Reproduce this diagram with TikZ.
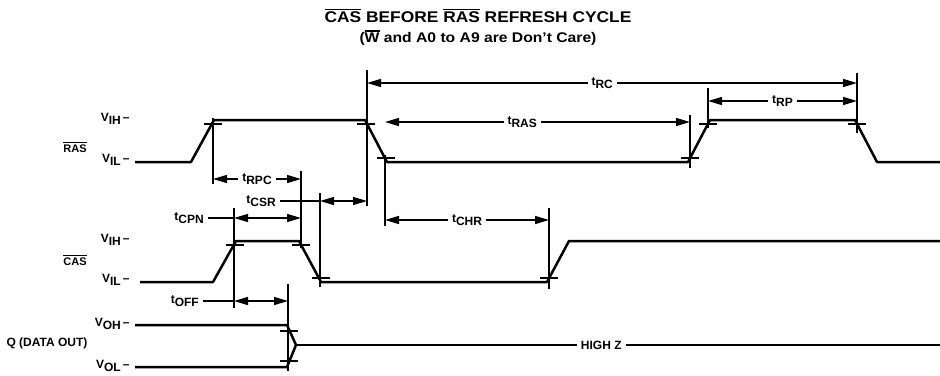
\documentclass[tikz,border=0pt]{standalone}
\usepackage{fontspec}
\setmainfont{Liberation Sans}
\newfontfamily\widefont[FakeStretch=1.12]{Liberation Sans}
\usetikzlibrary{arrows.meta}

\begin{document}
\begin{tikzpicture}[x=1pt,y=-1pt,
  font=\bfseries\fontsize{12}{13}\selectfont,
  wave/.style={line width=2.5pt,line join=round},
  ext/.style={line width=1.4pt},
  tick/.style={line width=1.8pt},
  dim/.style={line width=1.4pt,{Triangle[length=14pt,width=8pt]}-{Triangle[length=14pt,width=8pt]}},
  lab/.style={fill=white,inner sep=4pt},
]
\newcommand{\tlab}[1]{t\raisebox{-3pt}{#1}}
\newcommand{\vlab}[1]{V\raisebox{-3pt}{#1}\,--}
\newcommand{\barlab}[1]{\vbox{\hrule height 1.2pt\kern1.5pt\hbox{#1}}}
\useasboundingbox (0,0) rectangle (940,375);

% titles
\node (title) at (478,16) {\widefont\bfseries\fontsize{15.5}{16}\selectfont\barlab{CAS} BEFORE \barlab{RAS} REFRESH CYCLE};
\node (sub) at (478,38) {\widefont\bfseries\fontsize{14}{15}\selectfont(\barlab{W} and A0 to A9 are Don’t Care)};

% signal names
\node (ras) at (75,147) {\fontsize{11}{12}\selectfont\barlab{RAS}};
\node (cas) at (75,260) {\fontsize{11}{12}\selectfont\barlab{CAS}};
\node (q) at (47,343) {Q (DATA OUT)};
\node[anchor=east] (rasH) at (133,119) {\vlab{IH}};
\node[anchor=east] (rasL) at (133,160) {\vlab{IL}};
\node[anchor=east] (casH) at (133,240) {\vlab{IH}};
\node[anchor=east] (casL) at (133,280) {\vlab{IL}};
\node[anchor=east] (qH) at (133,324) {\vlab{OH}};
\node[anchor=east] (qL) at (133,366) {\vlab{OL}};

% waveforms
\draw[wave] (135,162) -- (191,162) -- (214,120) -- (365,120) -- (387,162) -- (688,162)
  -- (710,120) -- (855,120) -- (877,162) -- (940,162);
\draw[wave] (140,282) -- (213,282) -- (236,241) -- (299,241) -- (321,282) -- (547,282)
  -- (569,241) -- (940,241);
\coordinate (qZ) at (296,345);
\coordinate (qEnd) at (940,345);
\draw[wave] (135,325) -- (287,325) -- (qZ);
\draw[wave] (135,367) -- (287,367) -- (qZ);
\draw[wave] (qZ) -- node[lab,pos=.474] (hz) {HIGH Z} (qEnd);

% crossings
\foreach \x/\y in {213/124,366/124,386/158,690/158,708/124,857/124,
                   235/245,301/245,321/278,549/278,289/331,289/361}
  \draw[tick] (\x-9,\y) -- (\x+9,\y);

% reference lines
\foreach \x/\a/\b in {213/118/184,301/171/248,320/193/287,234/208/308,288/284/371,
                      367/70/206,385/155/226,549/208/289,690/115/168,708/88/128,857/73/133}
  \draw[ext] (\x,\a) -- (\x,\b);

% timings
\coordinate (rcL) at (367,83);   \coordinate (rcR) at (857,83);
\coordinate (rpL) at (708,101);  \coordinate (rpR) at (857,101);
\coordinate (rasL) at (385,122); \coordinate (rasR) at (690,122);
\coordinate (rpcL) at (213,179); \coordinate (rpcR) at (301,179);
\coordinate (csrL) at (320,201); \coordinate (csrR) at (367,201);
\coordinate (cpnL) at (234,218); \coordinate (cpnR) at (301,218);
\coordinate (offL) at (234,301); \coordinate (offR) at (288,301);
\coordinate (chrL) at (385,220); \coordinate (chrR) at (549,220);

\draw[dim] (rcL) -- node[lab,pos=.48] (rc) {\tlab{RC}} (rcR);
\draw[dim] (rpL) -- node[lab] (rp) {\tlab{RP}} (rpR);
\draw[dim] (rasL) -- node[lab,pos=.45] (tras) {\tlab{RAS}} (rasR);
\draw[dim] (rpcL) -- node[lab] (rpc) {\tlab{RPC}} (rpcR);
\draw[dim] (chrL) -- node[lab] (chr) {\tlab{CHR}} (chrR);
\draw[dim] (csrL) -- (csrR);
\draw[dim] (cpnL) -- (cpnR);
\draw[dim] (offL) -- (offR);
\node[lab,anchor=east] (csr) at (280,201) {\tlab{CSR}};
\node[lab,anchor=east] (cpn) at (208,218) {\tlab{CPN}};
\node[lab,anchor=east] (off) at (203,301) {\tlab{OFF}};
\draw[ext] (csr) -- (csrL);
\draw[ext] (cpn) -- (cpnL);
\draw[ext] (off) -- (offL);
\end{tikzpicture}
\end{document}
